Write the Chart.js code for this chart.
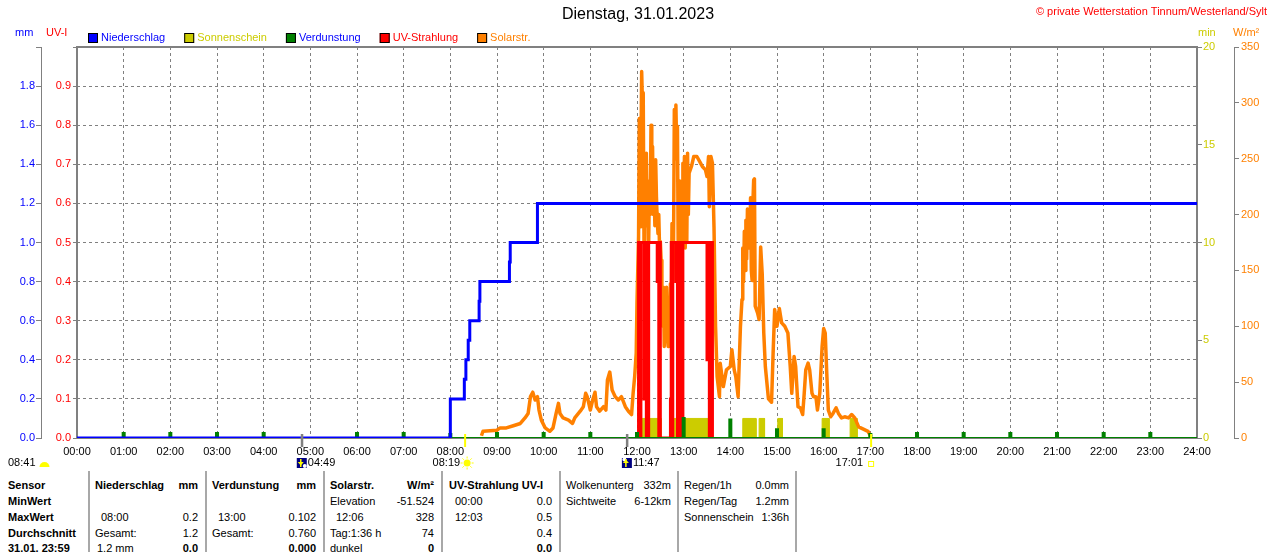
<!DOCTYPE html>
<html lang="de">
<head>
<meta charset="utf-8">
<title>Wetterstation Tinnum - 31.01.2023</title>
<script src="https://cdn.jsdelivr.net/npm/chart.js@4.4.1/dist/chart.umd.min.js"></script>
<style>
  html, body { margin: 0; padding: 0; background: #fff; overflow: hidden; }
  #page { position: relative; width: 1280px; height: 552px; font: 11px "Liberation Sans", Arial, sans-serif; }
  #chartBox { position: absolute; left: 0; top: 0; width: 1280px; height: 470px; }
  .t { position: absolute; line-height: 16px; white-space: nowrap; color: #000; }
  .b { font-weight: bold; }
  .sep { position: absolute; top: 471px; width: 2px; height: 81px; background: #a8a8a8; }
</style>
</head>
<body>
<div id="page">
  <div id="chartBox"><canvas id="chart"></canvas></div>

  <!-- table below the chart -->
  <div class="sep" style="left:88px"></div>
  <div class="sep" style="left:205px"></div>
  <div class="sep" style="left:323px"></div>
  <div class="sep" style="left:441px"></div>
  <div class="sep" style="left:559px"></div>
  <div class="sep" style="left:677px"></div>
  <div class="sep" style="left:795px"></div>

  <span class="t b" style="left:8px;top:477px">Sensor</span>
  <span class="t b" style="left:8px;top:493px">MinWert</span>
  <span class="t b" style="left:8px;top:509px">MaxWert</span>
  <span class="t b" style="left:8px;top:525px">Durchschnitt</span>
  <span class="t b" style="left:8px;top:540px">31.01. 23:59</span>

  <span class="t b" style="left:95px;top:477px">Niederschlag</span>
  <span class="t b" style="right:1082px;top:477px">mm</span>
  <span class="t" style="left:101px;top:509px">08:00</span>
  <span class="t" style="right:1082px;top:509px">0.2</span>
  <span class="t" style="left:95px;top:525px">Gesamt:</span>
  <span class="t" style="right:1082px;top:525px">1.2</span>
  <span class="t" style="left:97px;top:540px">1.2 mm</span>
  <span class="t b" style="right:1082px;top:540px">0.0</span>

  <span class="t b" style="left:212px;top:477px">Verdunstung</span>
  <span class="t b" style="right:964px;top:477px">mm</span>
  <span class="t" style="left:218px;top:509px">13:00</span>
  <span class="t" style="right:964px;top:509px">0.102</span>
  <span class="t" style="left:212px;top:525px">Gesamt:</span>
  <span class="t" style="right:964px;top:525px">0.760</span>
  <span class="t b" style="right:964px;top:540px">0.000</span>

  <span class="t b" style="left:330px;top:477px">Solarstr.</span>
  <span class="t b" style="right:846px;top:477px">W/m²</span>
  <span class="t" style="left:330px;top:493px">Elevation</span>
  <span class="t" style="right:846px;top:493px">-51.524</span>
  <span class="t" style="left:336px;top:509px">12:06</span>
  <span class="t" style="right:846px;top:509px">328</span>
  <span class="t" style="left:330px;top:525px">Tag:1:36 h</span>
  <span class="t" style="right:846px;top:525px">74</span>
  <span class="t" style="left:330px;top:540px">dunkel</span>
  <span class="t b" style="right:846px;top:540px">0</span>

  <span class="t b" style="left:449px;top:477px">UV-Strahlung UV-I</span>
  <span class="t" style="left:455px;top:493px">00:00</span>
  <span class="t" style="right:728px;top:493px">0.0</span>
  <span class="t" style="left:455px;top:509px">12:03</span>
  <span class="t" style="right:728px;top:509px">0.5</span>
  <span class="t" style="right:728px;top:525px">0.4</span>
  <span class="t b" style="right:728px;top:540px">0.0</span>

  <span class="t" style="left:566px;top:477px">Wolkenunterg</span>
  <span class="t" style="right:609px;top:477px">332m</span>
  <span class="t" style="left:566px;top:493px">Sichtweite</span>
  <span class="t" style="right:609px;top:493px">6-12km</span>

  <span class="t" style="left:684px;top:477px">Regen/1h</span>
  <span class="t" style="right:491px;top:477px">0.0mm</span>
  <span class="t" style="left:684px;top:493px">Regen/Tag</span>
  <span class="t" style="right:491px;top:493px">1.2mm</span>
  <span class="t" style="left:684px;top:509px">Sonnenschein</span>
  <span class="t" style="right:491px;top:509px">1:36h</span>
</div>

<script>
// ------------------------
// DATA (times as HH:MM)
// ------------------------
const rainTimes  = ["00:00","08:00","08:18","08:20","08:23","08:25","08:37","08:38","09:16","09:17","09:52","24:00"];
const rainValues = [0, 0.2, 0.3, 0.4, 0.5, 0.6, 0.7, 0.8, 0.9, 1.0, 1.2, 1.2];

const evapHours  = [1, 2, 3, 4, 5, 6, 7, 8, 9, 10, 11, 12, 13, 14, 15, 16, 17, 18, 19, 20, 21, 22, 23];
const evapValues = [0.025, 0.025, 0.025, 0.025, 0, 0.025, 0.025, 0.02, 0.025, 0.025, 0.025, 0.025,
                    0.102, 0.095, 0.045, 0.045, 0.02, 0.025, 0.025, 0.025, 0.025, 0.025, 0.025];

const sunStart   = ["12:05","12:46","14:16","14:37","15:01","15:58","16:34"];
const sunEnd     = ["12:31","13:37","14:33","14:44","15:07","16:07","16:43"];
const sunMinutes = [1, 1, 1, 1, 1, 1, 1];

const uvTimes  = ["12:01","12:02","12:04","12:05","12:09","12:10","12:12","12:13","12:14","12:15",
                  "12:26","12:27","12:28","12:29","12:30","12:43","12:44","12:45","12:46","12:50",
                  "12:51","12:52","12:53","12:55","12:56","12:58","12:59","13:30","13:32","13:33",
                  "13:34","13:37"];
const uvValues = [0, 0.5, 0, 0.5, 0.1, 0.5, 0, 0.5, 0, 0.5,
                  0.4, 0.5, 0, 0.5, 0, 0.1, 0.5, 0, 0.5, 0.4,
                  0.5, 0, 0.5, 0, 0.5, 0, 0.5, 0.2, 0.5, 0,
                  0.5, 0];

const solarTimes = [
  "08:40","08:42","09:00","09:04","09:12","09:21","09:30","09:36","09:40","09:43","09:46","09:49","09:52","09:54","09:57",
  "10:02","10:08","10:12","10:16","10:19","10:21","10:25","10:32","10:37","10:40","10:47","10:51","10:54","10:56",
  "11:00","11:03","11:06","11:08","11:12","11:17","11:20","11:22","11:25","11:28","11:32","11:36","11:40","11:45",
  "11:49","11:53","11:55","11:57","11:59",
  "12:00","12:02","12:03","12:04","12:05","12:06","12:07","12:08","12:09","12:10","12:11","12:12","12:13","12:14",
  "12:15","12:16","12:17","12:18","12:19","12:20","12:21","12:22","12:23","12:24","12:25","12:26","12:27","12:28",
  "12:29","12:30","12:31","12:32","12:33","12:34","12:35","12:36","12:37","12:38","12:39","12:40","12:41","12:42",
  "12:43","12:44","12:45","12:46","12:47","12:48","12:49","12:50","12:51","12:52","12:53","12:54","12:55","12:56",
  "12:57","12:58","12:59",
  "13:00","13:01","13:02","13:03","13:04","13:05","13:06","13:07","13:10","13:13","13:17","13:21","13:24","13:28",
  "13:30","13:32","13:33","13:35","13:37","13:39","13:41","13:43","13:46","13:47","13:51","13:55",
  "14:00","14:02","14:05","14:07","14:10","14:13","14:15","14:16","14:17","14:18","14:19","14:20","14:21","14:22",
  "14:23","14:24","14:25","14:26","14:27","14:28","14:29","14:30","14:31","14:32","14:35","14:37","14:39","14:41",
  "14:43","14:45","14:49","14:53","14:55","14:57",
  "15:00","15:03","15:06","15:10","15:14","15:17","15:19","15:22","15:24","15:27","15:30","15:33","15:35","15:37",
  "15:40","15:42","15:45","15:47","15:50","15:52","15:55","15:58",
  "16:00","16:02","16:04","16:06","16:09","16:12","16:16","16:19","16:23","16:27","16:32","16:36","16:40","16:45",
  "16:51","16:57","17:01"
];
const solarValues = [
  2, 6, 7, 9, 9, 11, 13, 18, 22, 37, 41, 34, 37, 25, 16,
  9, 6, 9, 22, 31, 22, 18, 16, 13, 18, 24, 28, 40, 37,
  25, 34, 41, 28, 24, 28, 25, 52, 59, 43, 37, 34, 37, 28,
  24, 21, 40, 55, 76,
  121, 180, 286, 189, 250, 328, 300, 309, 175, 240, 200, 255, 190, 219,
  175, 230, 200, 280, 230, 261, 200, 222, 190, 249, 216, 195, 183, 200,
  170, 176, 159, 120, 100, 135, 82, 120, 100, 135, 90, 82, 125, 100,
  138, 110, 192, 140, 175, 294, 250, 298, 260, 279, 166, 230, 162, 190,
  213, 170, 246,
  189, 252, 170, 250, 175, 255, 200, 237, 243, 252, 252, 247, 243, 240,
  234, 252, 207, 252, 246, 189, 100, 55, 37, 67, 46, 61,
  64, 79, 61, 55, 37, 100, 124, 170, 140, 185, 150, 195, 160, 205,
  170, 200, 175, 215, 150, 141, 210, 231, 232, 118, 112, 106, 171, 147,
  94, 64, 35, 32, 76, 115,
  100, 116, 103, 100, 94, 64, 40, 73, 64, 28, 27, 21, 40, 61,
  67, 61, 40, 37, 37, 25, 40, 82,
  98, 94, 58, 25, 19, 22, 27, 22, 18, 19, 18, 21, 18, 10,
  8, 6, 1
];

const sunEvents  = ["08:19", "17:01"];   // Sonnenaufgang / -untergang
const moonEvents = ["04:49", "11:47"];   // Mond
const dayLabel   = "Dienstag, 31.01.2023";
const copyright  = "© private Wetterstation Tinnum/Westerland/Sylt";

// ------------------------
// HELPERS
// ------------------------
const FONT_FAMILY = "'Liberation Sans', Arial, sans-serif";
const FONT = "11px " + FONT_FAMILY;
const GRID = "#808080";

function toMin(s) {
  const [h, m] = s.split(":").map(Number);
  return h * 60 + m;
}
function pad2(n) { return String(n).padStart(2, "0"); }

const rainPoints = rainTimes.map((t, i) => ({ x: toMin(t), y: rainValues[i] }));
const uvPoints = uvTimes.map((t, i) => ({ x: toMin(t), y: uvValues[i] }));
const solarPoints = solarTimes.map((t, i) => ({ x: toMin(t), y: solarValues[i] }));

const sunPoints = [];
sunStart.forEach((s, i) => {
  const a = toMin(s), b = toMin(sunEnd[i]);
  sunPoints.push({ x: a, y: 0 }, { x: a, y: sunMinutes[i] }, { x: b, y: sunMinutes[i] }, { x: b, y: 0 });
});

// evaporation: thin spike at each full hour on a zero baseline
const evapPoints = [{ x: 0, y: 0 }];
evapHours.forEach((h, i) => {
  const m = h * 60;
  evapPoints.push({ x: m - 1.3, y: 0 }, { x: m - 1.3, y: evapValues[i] },
                  { x: m + 1.3, y: evapValues[i] }, { x: m + 1.3, y: 0 });
});
evapPoints.push({ x: 1440, y: 0 });

function txt(ctx, s, x, y, color, align, font) {
  ctx.font = font || FONT;
  ctx.fillStyle = color;
  ctx.textAlign = align || "left";
  ctx.textBaseline = "middle";
  ctx.fillText(s, x, y);
}

// ------------------------
// DECORATION PLUGIN
// ------------------------
const decor = {
  id: "decor",
  beforeDatasetsDraw(chart) {
    const { ctx, chartArea: a } = chart;
    ctx.save();
    ctx.strokeStyle = GRID;
    ctx.lineWidth = 2;
    ctx.strokeRect(a.left, a.top, a.right - a.left, a.bottom - a.top);
    ctx.restore();
  },
  afterDraw(chart) {
    const { ctx } = chart;
    const xs = chart.scales.x;
    ctx.save();

    txt(ctx, dayLabel, 638, 15, "#000", "center", "16px " + FONT_FAMILY);
    txt(ctx, copyright, 1267, 12, "#ff0000", "right");

    txt(ctx, "mm", 15, 33, "#0000ff");
    txt(ctx, "UV-I", 46, 33, "#ff0000");
    txt(ctx, "min", 1198, 33, "#cccc00");
    txt(ctx, "W/m²", 1233, 33, "#ff8000");

    // legend
    const items = [
      ["Niederschlag", "#0000ff", "#0000ff"],
      ["Sonnenschein", "#cccc00", "#cccc00"],
      ["Verdunstung", "#008000", "#0000ff"],
      ["UV-Strahlung", "#ff0000", "#ff0000"],
      ["Solarstr.", "#ff8000", "#ff8000"]
    ];
    let lx = 88;
    ctx.font = FONT;
    items.forEach(([label, box, color]) => {
      ctx.fillStyle = box;
      ctx.fillRect(lx, 33, 10, 10);
      ctx.strokeStyle = "#000";
      ctx.lineWidth = 1;
      ctx.strokeRect(lx + 0.5, 33.5, 9, 9);
      txt(ctx, label, lx + 13, 38, color);
      lx += 13 + ctx.measureText(label).width + 19;
    });

    // moon rise / set
    moonEvents.forEach((t, i) => {
      const px = xs.getPixelForValue(toMin(t));
      ctx.fillStyle = GRID;
      ctx.fillRect(px - 1, 434, 2.5, 13);
      ctx.fillStyle = "#000080";
      ctx.fillRect(px - 5, 458, 10, 10);
      ctx.fillStyle = "#ffffff";
      ctx.beginPath();
      ctx.arc(i === 0 ? px + 3 : px - 2.5, i === 0 ? 466 : 459.5, 2, 0, Math.PI * 2);
      ctx.fill();
      ctx.strokeStyle = "#ffff00";
      ctx.fillStyle = "#ffff00";
      ctx.lineWidth = 1.5;
      ctx.beginPath();
      ctx.moveTo(px - 1, 459); ctx.lineTo(px - 1, 467);
      ctx.stroke();
      ctx.beginPath();
      if (i === 0) { ctx.moveTo(px - 4, 462); ctx.lineTo(px + 2, 462); ctx.lineTo(px - 1, 465.5); }
      else { ctx.moveTo(px - 4, 463); ctx.lineTo(px + 2, 463); ctx.lineTo(px - 1, 459.5); }
      ctx.fill();
      txt(ctx, t, px + 6, 463, "#000");
    });

    // sun rise / set
    sunEvents.forEach((t, i) => {
      const px = xs.getPixelForValue(toMin(t));
      ctx.fillStyle = "#ffff00";
      ctx.fillRect(px - 1, 434, 2, 13);
      if (i === 0) {
        const cx = px + 2, cy = 463;
        ctx.beginPath();
        ctx.arc(cx, cy, 3.5, 0, Math.PI * 2);
        ctx.fill();
        ctx.strokeStyle = "#ffff00";
        ctx.lineWidth = 1;
        for (let k = 0; k < 8; k++) {
          const ang = k * Math.PI / 4;
          ctx.beginPath();
          ctx.moveTo(cx + Math.cos(ang) * 4.5, cy + Math.sin(ang) * 4.5);
          ctx.lineTo(cx + Math.cos(ang) * 6.5, cy + Math.sin(ang) * 6.5);
          ctx.stroke();
        }
        txt(ctx, t, px - 5, 463, "#000", "right");
      } else {
        ctx.strokeStyle = "#ffff00";
        ctx.lineWidth = 1;
        ctx.strokeRect(px - 2.5, 461.5, 5, 5);
        txt(ctx, t, px - 8, 463, "#000", "right");
      }
    });

    // moon phase at the left edge
    txt(ctx, "08:41", 8, 463, "#000");
    ctx.fillStyle = "#ffff00";
    ctx.beginPath();
    ctx.arc(44.5, 467, 5, Math.PI, 0);
    ctx.fill();

    ctx.restore();
  }
};

// ------------------------
// CHART
// ------------------------
Chart.defaults.font.family = FONT_FAMILY;
Chart.defaults.font.size = 11;
Chart.defaults.color = "#000";

new Chart(document.getElementById("chart"), {
  type: "line",
  data: {
    datasets: [
      { label: "Niederschlag", data: rainPoints, yAxisID: "yMM", stepped: true,
        borderColor: "#0000ff", borderWidth: 3, pointRadius: 0, fill: false },
      { label: "Verdunstung", data: evapPoints, yAxisID: "yMM",
        borderColor: "#008000", backgroundColor: "#008000", borderWidth: 2, pointRadius: 0, fill: "origin" },
      { label: "UV-Strahlung", data: uvPoints, yAxisID: "yUV", stepped: true,
        borderColor: "#ff0000", borderWidth: 3, pointRadius: 0, fill: false },
      { label: "Solarstr.", data: solarPoints, yAxisID: "ySolar",
        borderColor: "#ff8000", borderWidth: 3.5, pointRadius: 0, fill: false, tension: 0,
        borderJoinStyle: "round" },
      { label: "Sonnenschein", data: sunPoints, yAxisID: "yMin",
        borderColor: "#cccc00", backgroundColor: "#cccc00", borderWidth: 1, pointRadius: 0, fill: "origin" }
    ]
  },
  options: {
    responsive: true,
    maintainAspectRatio: false,
    animation: false,
    events: [],
    layout: { padding: { top: 47, left: 0, right: 0, bottom: 0 } },
    plugins: {
      legend: { display: false },
      tooltip: { enabled: false },
      title: { display: false }
    },
    scales: {
      x: {
        type: "linear", position: "bottom", min: 0, max: 1440,
        ticks: { stepSize: 60, autoSkip: false, maxRotation: 0, maxTicksLimit: 30, padding: 7,
                 color: "#000", callback: v => pad2(Math.round(v / 60)) + ":00" },
        grid: { color: GRID, lineWidth: 1, drawTicks: false },
        border: { display: false, dash: [3, 3] },
        afterFit: s => { s.height = 32; }
      },
      yMM: {
        position: "left", weight: 1, min: 0, max: 2,
        ticks: { stepSize: 0.2, padding: 1, color: "#0000ff",
                 callback: v => v >= 1.999 ? "" : v.toFixed(1) },
        grid: { drawOnChartArea: false, tickLength: 5, tickColor: GRID, color: GRID },
        border: { display: true, color: GRID, width: 1 },
        afterFit: s => { s.width = 41; }
      },
      yUV: {
        position: "left", weight: 0, min: 0, max: 1,
        ticks: { stepSize: 0.1, padding: 2, color: "#ff0000",
                 callback: v => v >= 0.999 ? "" : v.toFixed(1) },
        grid: { color: GRID, lineWidth: 1, tickLength: 4, tickColor: GRID, tickBorderDash: [3, 3] },
        border: { display: false, dash: [3, 3] },
        afterFit: s => { s.width = 36; }
      },
      yMin: {
        position: "right", weight: 0, min: 0, max: 20,
        ticks: { stepSize: 5, padding: 1, color: "#cccc00" },
        grid: { drawOnChartArea: false, tickLength: 5, tickColor: GRID },
        border: { display: true, color: GRID, width: 2 },
        afterFit: s => { s.width = 37; }
      },
      ySolar: {
        position: "right", weight: 1, min: 0, max: 350,
        ticks: { stepSize: 50, padding: 2, color: "#ff8000" },
        grid: { drawOnChartArea: false, tickLength: 5, tickColor: GRID },
        border: { display: true, color: GRID, width: 1 },
        afterFit: s => { s.width = 46; }
      }
    }
  },
  plugins: [decor]
});
</script>
</body>
</html>
